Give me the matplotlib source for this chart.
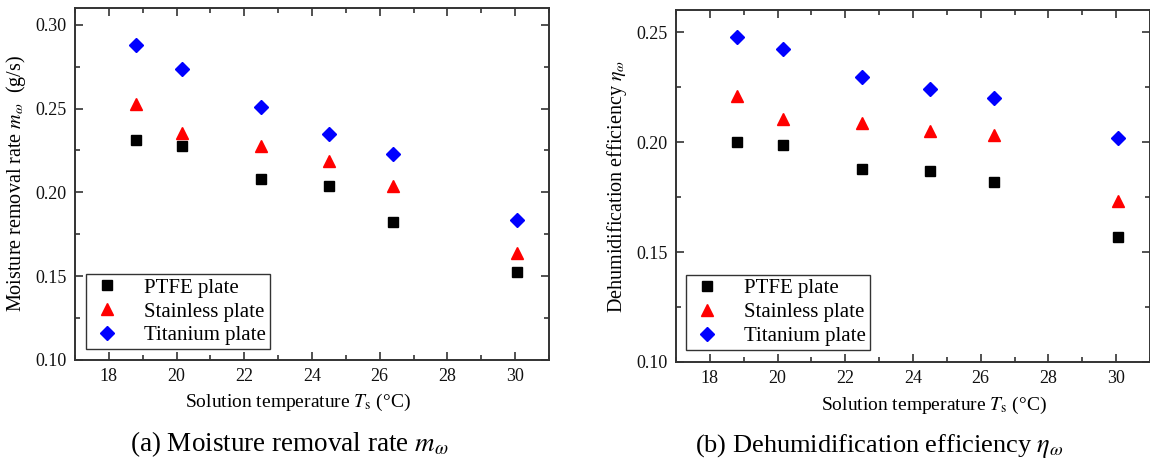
import numpy as np
import matplotlib.pyplot as plt
from matplotlib.ticker import MultipleLocator

plt.rcParams['font.family'] = ['Liberation Serif', 'DejaVu Serif']
plt.rcParams['mathtext.fontset'] = 'stix'

# Solution temperature (degC)
temp = [18.8, 20.15, 22.5, 24.5, 26.4, 30.05]

# Moisture removal rate (g/s)
rate_ptfe = [0.2313, 0.2278, 0.2081, 0.2041, 0.1822, 0.1523]
rate_stainless = [0.2528, 0.2353, 0.2278, 0.2190, 0.2039, 0.1637]
rate_titanium = [0.2879, 0.2737, 0.2512, 0.2347, 0.2230, 0.1838]

# Dehumidification efficiency
eff_ptfe = [0.1998, 0.1988, 0.1876, 0.1870, 0.1820, 0.1569]
eff_stainless = [0.2210, 0.2104, 0.2085, 0.2051, 0.2030, 0.1733]
eff_titanium = [0.2479, 0.2423, 0.2295, 0.2242, 0.2201, 0.2020]

labels = ['PTFE plate', 'Stainless plate', 'Titanium plate']
styles = [('s', 'black', 7.5), ('^', 'red', 8.5), ('D', 'blue', 7)]

fig = plt.figure(figsize=(11.5, 4.68), dpi=100)
ax1 = fig.add_axes([0.0652, 0.2308, 0.4122, 0.752])
ax2 = fig.add_axes([0.5878, 0.2265, 0.4122, 0.752])


def draw(ax, series, ylim, yticks, ylabel, legend_box, xlabel_x):
    for ys, lab, (m, c, s) in zip(series, labels, styles):
        ax.plot(temp, ys, linestyle='none', marker=m, color=c,
                markersize=s, label=lab)
    ax.set_xlim(17, 31)
    ax.set_ylim(*ylim)
    ax.xaxis.set_major_locator(MultipleLocator(2))
    ax.xaxis.set_minor_locator(MultipleLocator(1))
    ax.set_yticks(yticks)
    ax.yaxis.set_minor_locator(MultipleLocator(0.025))
    ax.yaxis.set_major_formatter(plt.FormatStrFormatter('%.2f'))
    ax.tick_params(which='both', direction='in', top=True, right=True,
                   labelsize=13, width=1.1, colors='#222222',
                   labelcolor='#111111')
    ax.tick_params(which='major', length=6, pad=6)
    ax.tick_params(which='minor', length=3.5)
    for sp in ax.spines.values():
        sp.set_linewidth(1.4)
        sp.set_color('#333333')
    ax.set_xlabel(r'Solution temperature $T_{\mathrm{s}}$ (°C)',
                  fontsize=14)
    ax.xaxis.set_label_coords(xlabel_x, -0.092)
    ax.set_ylabel(ylabel, fontsize=14.5, labelpad=5)
    leg = ax.legend(loc='lower left', bbox_to_anchor=legend_box,
                    fontsize=15, frameon=True, fancybox=False,
                    borderpad=0.2, labelspacing=0.2, handletextpad=1.0,
                    handlelength=1.6, borderaxespad=0)
    leg.get_frame().set_edgecolor('black')
    leg.get_frame().set_linewidth(1.0)


draw(ax1, [rate_ptfe, rate_stainless, rate_titanium], (0.10, 0.31),
     [0.10, 0.15, 0.20, 0.25, 0.30],
     r'Moisture removal rate $m_{\omega}$  (g/s)', (0.023, 0.030), 0.47)
draw(ax2, [eff_ptfe, eff_stainless, eff_titanium], (0.10, 0.26),
     [0.10, 0.15, 0.20, 0.25],
     r'Dehumidification efficiency $\eta_{\omega}$', (0.021, 0.034), 0.544)

fig.text(0.252, 0.035, r'(a) Moisture removal rate $m_{\omega}$',
         ha='center', fontsize=19.5)
fig.text(0.765, 0.035, r'(b) Dehumidification efficiency $\eta_{\omega}$',
         ha='center', fontsize=19)

fig.savefig('out.png', dpi=100)
